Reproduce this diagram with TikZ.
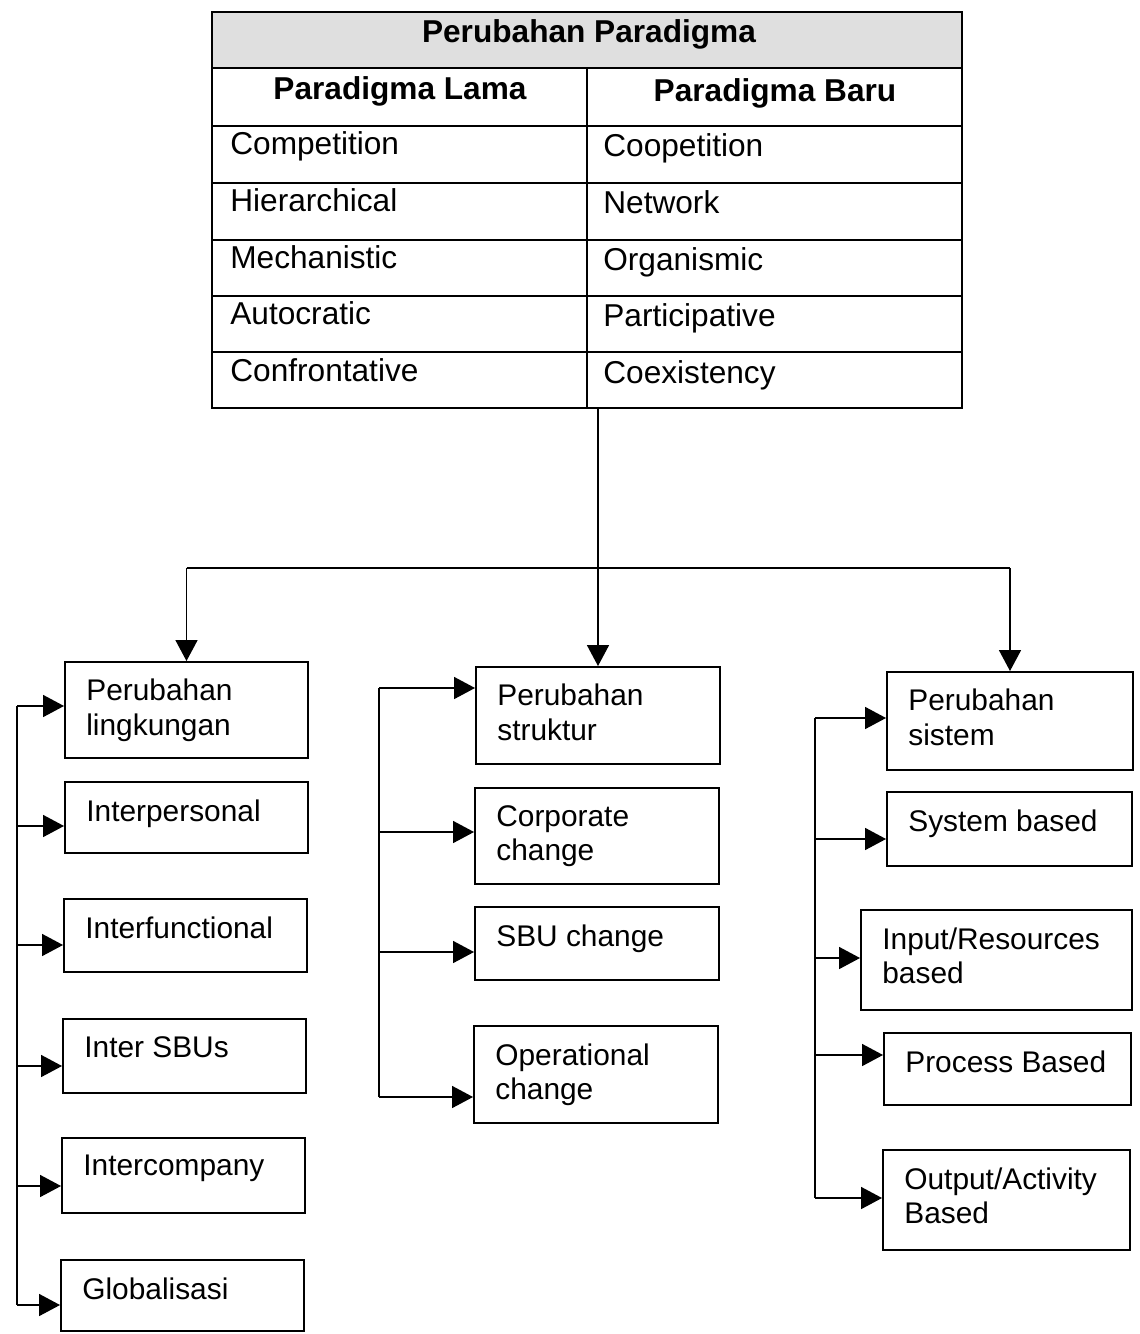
\documentclass[tikz,border=0pt]{standalone}
\usepackage{fontspec}
\setmainfont{Liberation Sans}
\usetikzlibrary{arrows.meta,fit}
\begin{document}
\begin{tikzpicture}[x=0.02cm,y=-0.02cm,
  cell/.style={draw, line width=1pt, inner sep=0pt},
  boxx/.style={draw, line width=1.1pt, inner sep=0pt},
  lbl/.style={anchor=north west, inner sep=0pt, align=left, font=\fontsize{17}{19.4}\selectfont},
  tbl/.style={inner sep=0pt, font=\fontsize{18}{20}\selectfont},
  tblh/.style={inner sep=0pt, font=\fontsize{18}{20}\selectfont\bfseries},
  conn/.style={line width=0.9pt},
  arr/.style={line width=0.9pt, -{Triangle[length=0.42cm, width=0.44cm]}}]
\useasboundingbox (0,0) rectangle (1139,1334);
% ---- table ----
\node[cell, fill=gray!25, fit={(212,12)(962,68)}] (hdr) {};
\node[tblh, anchor=base] (hdrt) at (589,43) {Perubahan Paradigma};
\node[cell, fit={(212,68)(587,126)}] (lh) {};
\node[cell, fit={(587,68)(962,126)}] (rh) {};
\node[tblh, anchor=base] (lht) at (400,100) {Paradigma Lama};
\node[tblh, anchor=base] (rht) at (775,102) {Paradigma Baru};
\foreach \t/\b/\l/\r [count=\i] in {126/183/Competition/Coopetition,
    183/240/Hierarchical/Network, 240/296/Mechanistic/Organismic,
    296/352/Autocratic/Participative, 352/408/Confrontative/Coexistency}{
  \node[cell, fit={(212,\t)(587,\b)}] (tl\i) {};
  \node[cell, fit={(587,\t)(962,\b)}] (tr\i) {};
  \node[tbl, anchor=base west] (tlt\i) at (230,\t+29) {\l};
  \node[tbl, anchor=base west] (trt\i) at (603,\t+31) {\r};
}
% ---- boxes ----
\newcommand\mybox[6]{%
  \node[boxx, fit={(#2,#3)(#4,#5)}] (#1) {};
  \node[lbl] (#1t) at (#2+21,#3+17) {#6};}
\mybox{L1}{65}{662}{308}{758}{Perubahan\\lingkungan}
\mybox{L2}{65}{782}{308}{853}{Interpersonal}
\mybox{L3}{64}{899}{307}{972}{Interfunctional}
\mybox{L4}{63}{1019}{306}{1093}{Inter SBUs}
\mybox{L5}{62}{1138}{305}{1213}{Intercompany}
\mybox{L6}{61}{1260}{304}{1331}{Globalisasi}
\mybox{M1}{476}{667}{720}{764}{Perubahan\\struktur}
\mybox{M2}{475}{788}{719}{884}{Corporate\\change}
\mybox{M3}{475}{907}{719}{980}{SBU change}
\mybox{M4}{474}{1026}{718}{1123}{Operational\\change}
\mybox{R1}{887}{672}{1133}{770}{Perubahan\\sistem}
\mybox{R2}{887}{792}{1132}{866}{System based}
\mybox{R3}{861}{910}{1132}{1010}{Input/Resources\\based}
\mybox{R4}{884}{1033}{1131}{1105}{Process Based}
\mybox{R5}{883}{1150}{1130}{1250}{Output/Activity\\Based}
% ---- top connectors ----
\coordinate (j) at (598,568);
\coordinate (jl) at (L1.north |- j);
\coordinate (jr) at (R1.north |- j);
\draw[conn] (j |- tr5.south) -- (j);
\draw[conn] (jl) -- (jr);
\draw[arr] (jl) -- (L1.north);
\draw[arr] (j) -- (M1.north);
\draw[arr] (jr) -- (R1.north);
% ---- left spine ----
\draw[conn] (17,706) -- (17,1305);
\foreach \y/\n in {706/L1,826/L2,945/L3,1066/L4,1186/L5,1305/L6}
  \draw[arr] (17,\y) -- (\n.west |- 0,\y);
% ---- middle spine ----
\draw[conn] (379,688) -- (379,1097);
\foreach \y/\n in {688/M1,832/M2,952/M3,1097/M4}
  \draw[arr] (379,\y) -- (\n.west |- 0,\y);
% ---- right spine ----
\draw[conn] (815,718) -- (815,1198);
\foreach \y/\n in {718/R1,839/R2,958/R3,1055/R4,1198/R5}
  \draw[arr] (815,\y) -- (\n.west |- 0,\y);
\end{tikzpicture}
\end{document}
